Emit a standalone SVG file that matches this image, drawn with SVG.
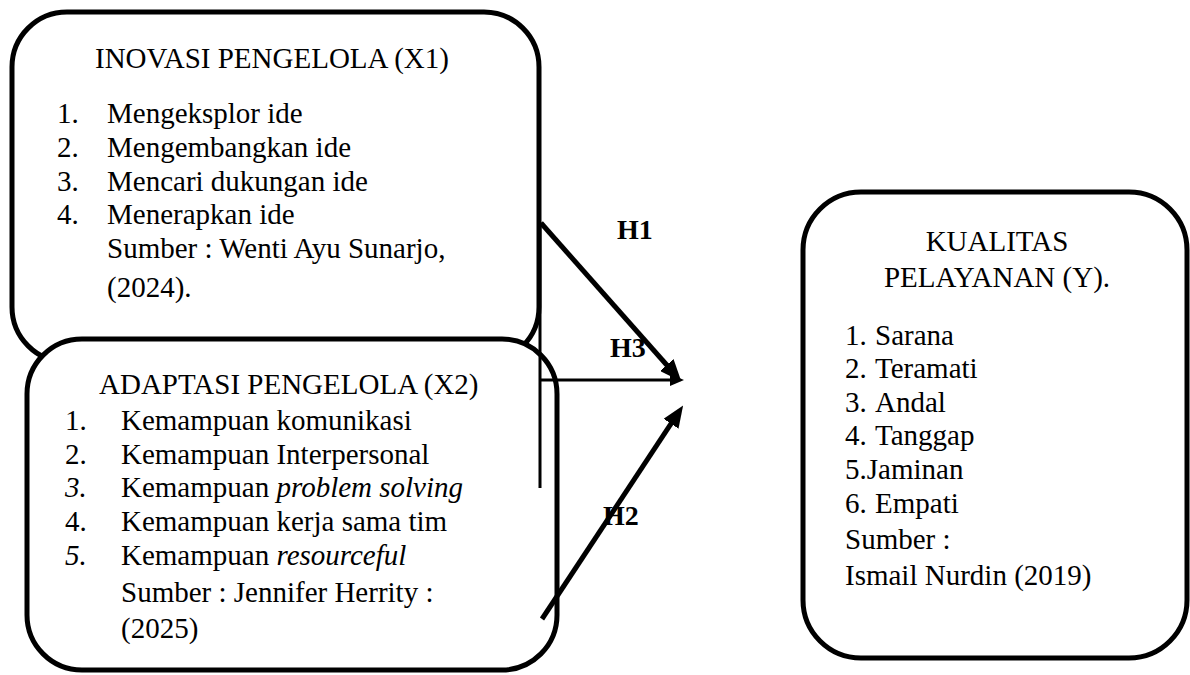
<svg xmlns="http://www.w3.org/2000/svg" width="1190" height="675" viewBox="0 0 1190 675">
  <style>
    .box { fill: #ffffff; stroke: #000000; stroke-width: 5; }
    .t { font-family: "Liberation Serif", "Times New Roman", serif; font-size: 29px; fill: #000000; }
    .c { text-anchor: middle; }
    .i { font-style: italic; }
    .lbl { font-family: "Liberation Serif", "Times New Roman", serif; font-size: 28px; font-weight: bold; fill: #000000; }
    .thick { stroke: #000000; stroke-width: 5; fill: none; }
    .thin { stroke: #000000; stroke-width: 3; fill: none; }
  </style>
  <defs>
    <marker id="ah" viewBox="0 0 22 18" refX="10" refY="9" markerWidth="22" markerHeight="18" orient="auto" markerUnits="userSpaceOnUse">
      <path d="M0,0 L22,9 L0,18 Z" fill="#000000"/>
    </marker>
    <marker id="ahs" viewBox="0 0 14 12" refX="6" refY="6" markerWidth="14" markerHeight="12" orient="auto" markerUnits="userSpaceOnUse">
      <path d="M0,0 L14,6 L0,12 Z" fill="#000000"/>
    </marker>
  </defs>
  <rect x="0" y="0" width="1190" height="675" fill="#ffffff"/>

  <g id="node-x1">
    <rect class="box" x="12" y="12" width="527" height="350" rx="55" ry="55"/>
    <text class="t" x="95" y="68">INOVASI PENGELOLA (X1)</text>
    <text class="t" x="57" y="123">1.</text><text class="t" x="107" y="123">Mengeksplor ide</text>
    <text class="t" x="57" y="157">2.</text><text class="t" x="107" y="157">Mengembangkan ide</text>
    <text class="t" x="57" y="191">3.</text><text class="t" x="107" y="191">Mencari dukungan ide</text>
    <text class="t" x="57" y="224">4.</text><text class="t" x="107" y="224">Menerapkan ide</text>
    <text class="t" x="107" y="258">Sumber : Wenti Ayu Sunarjo,</text>
    <text class="t" x="107" y="297">(2024).</text>
  </g>

  <g id="node-x2">
    <rect class="box" x="27" y="339" width="530" height="331" rx="55" ry="55"/>
    <text class="t" x="99" y="394">ADAPTASI PENGELOLA (X2)</text>
    <text class="t" x="65" y="430">1.</text><text class="t" x="121" y="430">Kemampuan komunikasi</text>
    <text class="t" x="65" y="464">2.</text><text class="t" x="121" y="464">Kemampuan Interpersonal</text>
    <text class="t i" x="65" y="497">3.</text><text class="t" x="121" y="497">Kemampuan <tspan class="i">problem solving</tspan></text>
    <text class="t" x="65" y="531">4.</text><text class="t" x="121" y="531">Kemampuan kerja sama tim</text>
    <text class="t i" x="65" y="565">5.</text><text class="t" x="121" y="565">Kemampuan <tspan class="i">resourceful</tspan></text>
    <text class="t" x="121" y="602">Sumber : Jennifer Herrity :</text>
    <text class="t" x="121" y="638">(2025)</text>
  </g>

  <g id="node-y">
    <rect class="box" x="803" y="192" width="384" height="466" rx="58" ry="58"/>
    <text class="t c" x="997" y="251">KUALITAS</text>
    <text class="t c" x="997" y="287">PELAYANAN (Y).</text>
    <text class="t" x="845" y="345">1.</text><text class="t" x="875" y="345">Sarana</text>
    <text class="t" x="845" y="378">2.</text><text class="t" x="875" y="378">Teramati</text>
    <text class="t" x="845" y="412">3.</text><text class="t" x="875" y="412">Andal</text>
    <text class="t" x="845" y="445">4.</text><text class="t" x="875" y="445">Tanggap</text>
    <text class="t" x="845" y="479">5.Jaminan</text>
    <text class="t" x="845" y="513">6.</text><text class="t" x="875" y="513">Empati</text>
    <text class="t" x="845" y="549">Sumber :</text>
    <text class="t" x="845" y="585">Ismail Nurdin (2019)</text>
  </g>

  <g id="connectors">
    <line class="thin" x1="540" y1="222" x2="540" y2="488"/>
    <line class="thin" x1="540" y1="380" x2="676" y2="380" marker-end="url(#ahs)"/>
    <line class="thick" x1="541" y1="223" x2="673.4" y2="372.5" marker-end="url(#ah)"/>
    <line class="thick" x1="542" y1="619" x2="676.5" y2="415.4" marker-end="url(#ah)"/>
    <text class="lbl" x="617" y="239">H1</text>
    <text class="lbl" x="610" y="357">H3</text>
    <text class="lbl" x="603" y="525">H2</text>
  </g>
</svg>
